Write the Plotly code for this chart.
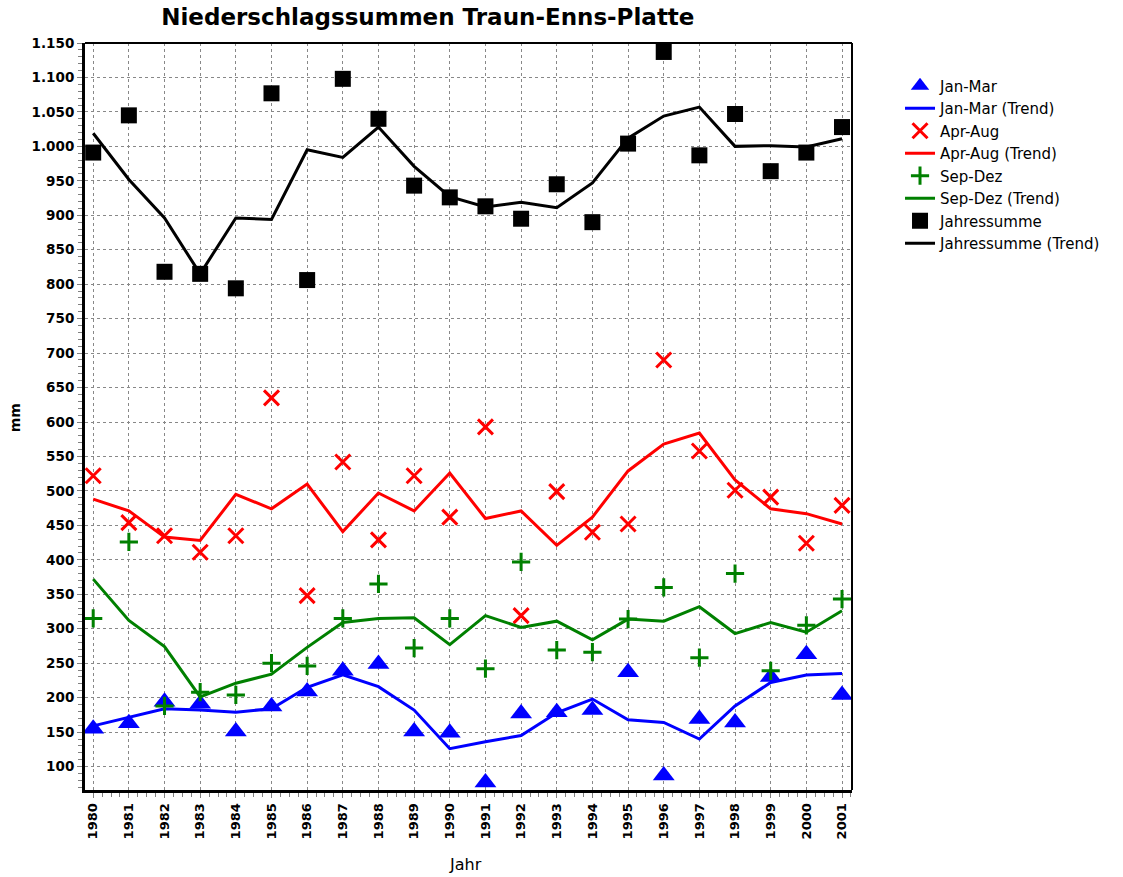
import plotly.graph_objects as go

years = list(range(1980, 2002))

jan_mar = [155, 163, 194, 191, 151, 187, 209, 239, 249, 151, 149, 77, 177, 179, 182,
           237, 87, 169, 164, 230, 263, 204]
jan_mar_trend = [159, 171, 184, 182, 179, 184, 215, 233, 216, 182, 126, 136, 145, 178, 198,
                 168, 164, 140, 188, 222, 233, 235]

apr_aug = [522, 454, 435, 411, 435, 635, 348, 542, 429, 522, 462, 593, 319, 499, 440,
           452, 690, 558, 501, 491, 424, 479]
apr_aug_trend = [488, 471, 433, 428, 495, 474, 510, 441, 497, 471, 526, 460, 471, 421, 462,
                 529, 568, 584, 516, 474, 467, 452]

sep_dez = [315, 426, 188, 208, 204, 250, 246, 315, 365, 272, 315, 242, 397, 269, 266,
           314, 360, 258, 380, 239, 305, 343]
sep_dez_trend = [372, 312, 274, 201, 221, 234, 273, 309, 315, 316, 277, 319, 302, 311, 284,
                 314, 311, 332, 293, 309, 295, 326]

jahressumme = [991, 1045, 818, 815, 794, 1077, 806, 1098, 1040, 943, 926, 913, 895, 945, 890,
               1004, 1137, 987, 1047, 964, 991, 1028]
jahressumme_trend = [1019, 952, 896, 815, 896, 894, 995, 984, 1028, 971, 927, 912, 919, 911, 947,
                     1012, 1044, 1057, 1000, 1001, 999, 1011]

BLUE = "#0000FF"
RED = "#FF0000"
GREEN = "#008000"
BLACK = "#000000"
WIDE = "DejaVu Sans, Verdana, sans-serif"

fig = go.Figure()

series = [
    ("Jan-Mar", jan_mar, jan_mar_trend, BLUE,
     dict(symbol="triangle-up", size=19, color=BLUE)),
    ("Apr-Aug", apr_aug, apr_aug_trend, RED,
     dict(symbol="x-thin", size=15, color=RED, line=dict(color=RED, width=3))),
    ("Sep-Dez", sep_dez, sep_dez_trend, GREEN,
     dict(symbol="cross-thin", size=13, color=GREEN, line=dict(color=GREEN, width=3))),
    ("Jahressumme", jahressumme, jahressumme_trend, BLACK,
     dict(symbol="square", size=16, color=BLACK)),
]

for name, vals, trend, color, marker in series:
    fig.add_trace(go.Scatter(x=years, y=vals, mode="markers", name=name,
                             marker=marker, cliponaxis=False))
    fig.add_trace(go.Scatter(x=years, y=trend, mode="lines", name=f"{name} (Trend)",
                             line=dict(color=color, width=3)))

fig.update_layout(
    width=1123, height=877,
    margin=dict(l=85, r=271, t=43, b=87, autoexpand=False),
    paper_bgcolor="white", plot_bgcolor="white",
    separators=",.",
    font=dict(family=WIDE, size=14, color="black"),
    title=dict(text="<b>Niederschlagssummen Traun-Enns-Platte</b>",
               x=0.381, xanchor="center", y=0.981, yanchor="middle",
               font=dict(size=23, family=WIDE, color="black")),
    showlegend=True,
    legend=dict(x=1.0626, xanchor="left", y=0.9646, yanchor="top",
                font=dict(size=15, family=WIDE), bgcolor="rgba(0,0,0,0)",
                tracegroupgap=0, itemsizing="trace"),
)

fig.update_xaxes(
    range=[1979.77, 2001.28],
    tickmode="array", tickvals=years, ticktext=[f"<b>{y}</b>" for y in years],
    tickangle=-90, tickfont=dict(size=13, family=WIDE),
    ticks="outside", ticklen=5, tickcolor="#808080", tickwidth=1,
    minor=dict(dtick=0.25, tick0=1980, ticks="outside", ticklen=4,
               tickcolor="#808080", showgrid=False),
    showgrid=True, gridcolor="#888888", griddash="dot", gridwidth=1,
    showline=True, linecolor="black", linewidth=3,
    zeroline=False,
)

fig.update_yaxes(
    range=[66, 1150],
    tickmode="linear", tick0=100, dtick=50,
    tickformat=",d", separatethousands=True,
    tickprefix="<b>", ticksuffix="</b>",
    tickfont=dict(size=13.5, family=WIDE),
    ticks="outside", ticklen=5, tickcolor="#808080", tickwidth=1,
    minor=dict(dtick=10, tick0=0, ticks="outside", ticklen=4,
               tickcolor="#808080", showgrid=False),
    showgrid=True, gridcolor="#888888", griddash="dot", gridwidth=1,
    showline=True, linecolor="black", linewidth=3,
    zeroline=False,
)

# top and right frame edges
fig.add_shape(type="line", xref="paper", yref="paper", x0=0, x1=1, y0=1, y1=1,
              line=dict(color="black", width=2))
fig.add_shape(type="line", xref="paper", yref="paper", x0=1, x1=1, y0=0, y1=1,
              line=dict(color="black", width=2))

fig.add_annotation(text="<b>mm</b>", xref="paper", yref="paper",
                   x=-0.0913, y=0.499, xanchor="center", yanchor="middle",
                   textangle=-90, showarrow=False,
                   font=dict(size=14, family=WIDE))
fig.add_annotation(text="Jahr", xref="paper", yref="paper",
                   x=0.4965, y=-0.1004, xanchor="center", yanchor="middle",
                   showarrow=False,
                   font=dict(size=16, family=WIDE))

fig.write_html("out.html")
